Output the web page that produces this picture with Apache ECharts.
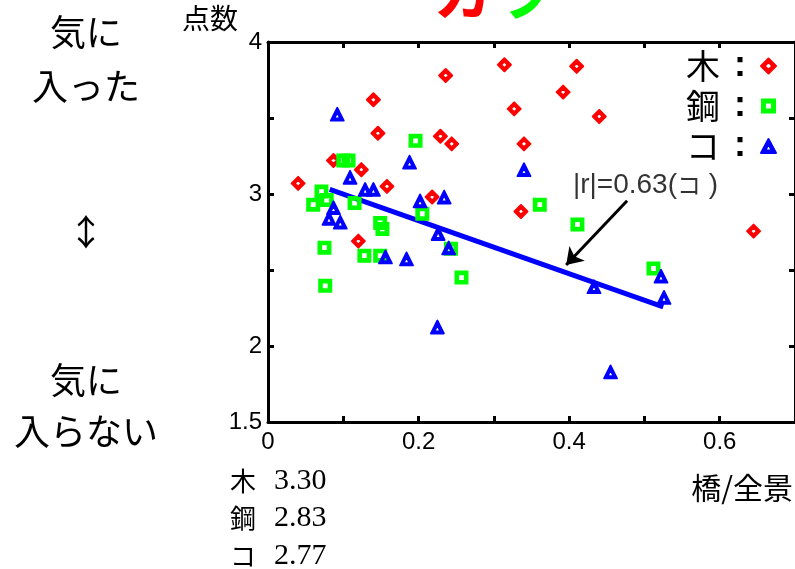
<!DOCTYPE html>
<html>
<head>
<meta charset="utf-8">
<script src="https://cdn.jsdelivr.net/npm/echarts@6/dist/echarts.min.js"></script>
<style>
html,body{margin:0;padding:0;background:#fff;}
#main{width:795px;height:569px;}
</style>
</head>
<body>
<div id="main"></div>
<script>
// 散布図データ（橋/全景, 点数）
var seriesNames = ['木', '鋼', 'コ'];
var wood = [[0.314,3.85],[0.236,3.78],[0.140,3.62],[0.327,3.56],[0.146,3.40],[0.229,3.38],[0.244,3.33],
	[0.340,3.33],[0.087,3.22],[0.124,3.16],[0.040,3.07],[0.158,3.05],[0.218,2.98],[0.336,2.885],
	[0.120,2.69],[0.410,3.84],[0.392,3.67],[0.440,3.51],[0.645,2.756]];
var steel = [[0.196,3.35],[0.100,3.22],[0.107,3.22],[0.071,3.016],[0.078,2.96],[0.060,2.93],[0.115,2.94],
	[0.205,2.87],[0.149,2.81],[0.152,2.77],[0.075,2.647],[0.128,2.594],[0.149,2.594],[0.243,2.64],
	[0.076,2.396],[0.257,2.45],[0.361,2.93],[0.411,2.80],[0.512,2.51]];
var concrete = [[0.092,3.525],[0.188,3.21],[0.109,3.11],[0.129,3.03],[0.140,3.03],[0.202,2.955],[0.234,2.98],
	[0.087,2.91],[0.081,2.84],[0.096,2.815],[0.226,2.74],[0.240,2.645],[0.156,2.586],[0.184,2.573],
	[0.225,2.125],[0.340,3.16],[0.433,2.39],[0.522,2.46],[0.526,2.32],[0.455,1.83]];
// 回帰直線（コ）と注釈
var fitLine = [[0.082,3.031],[0.525,2.258]];
var arrowLine = [[0.477,2.955],[0.396,2.533]];
var annPos = [0.405,3.06];
var annText = '|r|=0.63(';
// 平均点
var meanVals = ['3.30','2.83','2.77'];
var xTicks = {min:0, max:0.7, interval:0.1};
var yTicks = {min:1.5, max:4, interval:0.5};
var yHidden = [2.5, 3.5];

var colors = ['#ff0000','#00ff00','#0000ff'];
// 中抜きマーカー（太い枠）
var symbols = [
	'path://M7,0L14,7L7,14L0,7Z M7,3.4L3.4,7L7,10.6L10.6,7Z',
	'path://M0,0L14,0L14,14L0,14Z M4.6,4.6L4.6,9.4L9.4,9.4L9.4,4.6Z',
	'path://M7,0L14,13L0,13Z M7,4.6L4,10.8L10,10.8Z'
];
var symSizes = [13, 14, 13];
var symBorder = [2, 0, 1.8];
var cjk = '"Noto Sans CJK JP"';

var myChart = echarts.init(document.getElementById('main'));

function axisBase(){
	return {
		axisLine:{show:true, onZero:false, lineStyle:{color:'#000', width:3}},
		axisTick:{show:true, inside:true, length:6, lineStyle:{color:'#000', width:3}},
		splitLine:{show:false}
	};
}
var xBottom = axisBase(), xTop = axisBase(), yLeft = axisBase(), yRight = axisBase();
xBottom.type='value'; xBottom.position='bottom';
xBottom.min=xTicks.min; xBottom.max=xTicks.max; xBottom.interval=xTicks.interval;
xBottom.axisLabel={margin:8, color:'#000', fontSize:24, fontFamily:'Liberation Sans',
	formatter:function(v){ return Math.round(v*10)%2===0 ? String(Math.round(v*10)/10) : ''; }};
xTop.type='value'; xTop.position='top'; xTop.min=xTicks.min; xTop.max=xTicks.max; xTop.interval=xTicks.interval;
xTop.axisLabel={show:false};
yLeft.type='value'; yLeft.position='left';
yLeft.min=yTicks.min; yLeft.max=yTicks.max; yLeft.interval=yTicks.interval;
yLeft.axisLabel={margin:6, color:'#000', fontSize:24, fontFamily:'Liberation Sans',
	formatter:function(v){ return yHidden.indexOf(v)>=0 ? '' : String(v); }};
yLeft.name='点数';
yLeft.nameLocation='end';
yLeft.nameGap=10;
yLeft.nameTextStyle={color:'#000', fontSize:28, fontFamily:cjk, align:'right', padding:[0,30,0,0]};
yRight.type='value'; yRight.position='right'; yRight.min=yTicks.min; yRight.max=yTicks.max; yRight.interval=yTicks.interval;
yRight.axisLabel={show:false};

var scatterData=[wood, steel, concrete];
var series=[];
series.push({
	type:'line', data:fitLine, showSymbol:false, symbol:'none', silent:true,
	lineStyle:{color:'#0000ff', width:5}, z:1
});
for(var i=0;i<3;i++){
	series.push({
		name:seriesNames[i], type:'scatter', data:scatterData[i],
		symbol:symbols[i], symbolSize:symSizes[i],
		itemStyle:{color:colors[i], borderColor:colors[i], borderWidth:symBorder[i], borderJoin:'round', opacity:1},
		z:3
	});
}
series.push({
	type:'lines', coordinateSystem:'cartesian2d', silent:true,
	data:[{coords:arrowLine}],
	symbol:['none','arrow'], symbolSize:16,
	lineStyle:{color:'#000', width:3, opacity:1}, z:4
});
series.push({
	type:'scatter', data:[annPos], symbolSize:0, silent:true,
	label:{show:true, position:'right', distance:0, color:'#000',
		formatter:'{a|'+annText+'}{b|コ}{a| )}',
		rich:{a:{fontSize:28, fontFamily:'"Liberation Sans Narrow","Liberation Sans"', color:'#000'},
			b:{fontSize:24, fontFamily:cjk, color:'#000'}}},
	z:5
});

// 左側・下側のテキスト
var graphics=[];
var leftTexts=[['気に',32],['入った',86],['↕',232],['気に',380],['入らない',431]];
for(var k=0;k<leftTexts.length;k++){
	graphics.push({type:'text', x:86, y:leftTexts[k][1],
		style:{text:leftTexts[k][0], fill:'#000', font:'36px '+cjk, textAlign:'center', textVerticalAlign:'middle'}});
}
for(var m=0;m<3;m++){
	graphics.push({type:'text', x:230, y:481+m*37.5,
		style:{text:'{c|'+seriesNames[m]+'}{n|'+meanVals[m]+'}', textVerticalAlign:'middle',
			rich:{c:{font:'26px '+cjk, fill:'#000', width:44},
				n:{font:'30px "Liberation Serif"', fill:'#000'}}}});
}
graphics.push({type:'text', x:793, y:488,
	style:{text:'橋/全景', fill:'#000', font:'30px '+cjk, textAlign:'right', textVerticalAlign:'middle'}});
// タイトル（上端で切れている）
graphics.push({type:'text', x:433, y:22,
	style:{text:'{r|カ}{g|ラ}', textVerticalAlign:'bottom',
		rich:{r:{font:'bold 60px '+cjk, fill:'#ff0000'}, g:{font:'bold 60px '+cjk, fill:'#00ff00'}}}});

var option={
	animation:false,
	backgroundColor:'#fff',
	grid:{left:268, top:42, right:0, bottom:147, outerBoundsMode:'none', show:false},
	xAxis:[xBottom, xTop],
	yAxis:[yLeft, yRight],
	legend:{
		data:seriesNames, orient:'vertical', right:13, top:43, align:'right',
		itemGap:4, itemWidth:15, itemHeight:15,
		formatter:function(n){ return '{t|'+n+'}{c|:}'; },
		textStyle:{color:'#000', rich:{
			t:{fontSize:34, fontFamily:cjk, lineHeight:36},
			c:{fontSize:36, fontWeight:'bold', fontFamily:'Liberation Sans', padding:[0,10,0,14], lineHeight:36}}}
	},
	series:series,
	graphic:graphics
};
myChart.setOption(option);
</script>
</body>
</html>
